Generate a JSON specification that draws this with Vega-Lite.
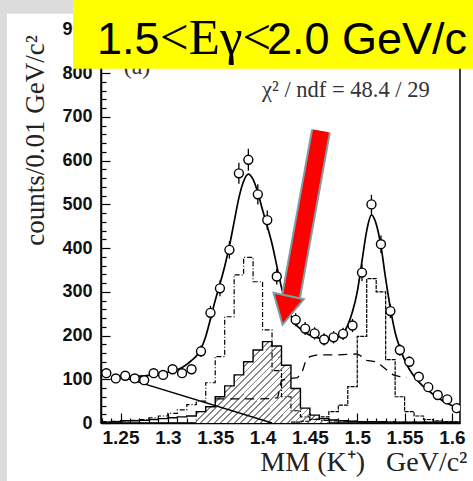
{
"$schema": "https://vega.github.io/schema/vega-lite/v6.json",
"width": 359, "height": 411,
"autosize": {"type": "none"},
"padding": {"left": 101, "top": 12, "right": 13, "bottom": 58},
"background": "white",
"config": {"view": {"stroke": "black", "strokeWidth": 1.5}},
"datasets": {
"pts": [
{"m":1.235,"n":114,"lo":103,"hi":125},{"m":1.245,"n":102,"lo":92,"hi":112},{"m":1.255,"n":108,"lo":98,"hi":118},{"m":1.265,"n":102,"lo":92,"hi":112},{"m":1.275,"n":98,"lo":88,"hi":108},{"m":1.285,"n":114,"lo":103,"hi":125},{"m":1.295,"n":110,"lo":100,"hi":120},{"m":1.305,"n":123,"lo":112,"hi":134},{"m":1.315,"n":114,"lo":103,"hi":125},{"m":1.325,"n":123,"lo":112,"hi":134},{"m":1.335,"n":164,"lo":151,"hi":177},{"m":1.345,"n":252,"lo":236,"hi":268},{"m":1.355,"n":308,"lo":290,"hi":326},{"m":1.365,"n":396,"lo":376,"hi":416},{"m":1.375,"n":571,"lo":547,"hi":595},{"m":1.385,"n":602,"lo":577,"hi":627},{"m":1.395,"n":523,"lo":500,"hi":546},{"m":1.405,"n":464,"lo":442,"hi":486},{"m":1.415,"n":335,"lo":317,"hi":353},{"m":1.425,"n":268,"lo":252,"hi":284},{"m":1.435,"n":236,"lo":221,"hi":251},{"m":1.445,"n":216,"lo":201,"hi":231},{"m":1.455,"n":205,"lo":191,"hi":219},{"m":1.465,"n":191,"lo":177,"hi":205},{"m":1.475,"n":196,"lo":182,"hi":210},{"m":1.485,"n":204,"lo":190,"hi":218},{"m":1.495,"n":223,"lo":208,"hi":238},{"m":1.505,"n":344,"lo":325,"hi":363},{"m":1.515,"n":500,"lo":478,"hi":522},{"m":1.525,"n":409,"lo":389,"hi":429},{"m":1.535,"n":256,"lo":240,"hi":272},{"m":1.545,"n":167,"lo":154,"hi":180},{"m":1.555,"n":140,"lo":128,"hi":152},{"m":1.565,"n":106,"lo":96,"hi":116},{"m":1.575,"n":82,"lo":73,"hi":91},{"m":1.585,"n":64,"lo":56,"hi":72},{"m":1.595,"n":54,"lo":47,"hi":61},{"m":1.605,"n":34,"lo":28,"hi":40}
],
"fit": [
{"m":1.25,"n":106},{"m":1.26,"n":106},{"m":1.27,"n":107},{"m":1.28,"n":109},{"m":1.29,"n":112},{"m":1.30,"n":116},{"m":1.31,"n":122},{"m":1.315,"n":127},{"m":1.32,"n":134},{"m":1.325,"n":143},{"m":1.33,"n":153},{"m":1.335,"n":170},{"m":1.34,"n":198},{"m":1.345,"n":238},{"m":1.35,"n":280},{"m":1.355,"n":318},{"m":1.36,"n":358},{"m":1.365,"n":405},{"m":1.37,"n":460},{"m":1.375,"n":515},{"m":1.38,"n":553},{"m":1.385,"n":569},{"m":1.39,"n":557},{"m":1.395,"n":527},{"m":1.40,"n":487},{"m":1.405,"n":450},{"m":1.41,"n":410},{"m":1.415,"n":360},{"m":1.42,"n":310},{"m":1.425,"n":272},{"m":1.43,"n":245},{"m":1.435,"n":226},{"m":1.44,"n":215},{"m":1.445,"n":207},{"m":1.45,"n":201},{"m":1.455,"n":197},{"m":1.46,"n":194},{"m":1.465,"n":192},{"m":1.47,"n":191},{"m":1.475,"n":192},{"m":1.48,"n":196},{"m":1.485,"n":205},{"m":1.49,"n":224},{"m":1.495,"n":255},{"m":1.50,"n":300},{"m":1.505,"n":370},{"m":1.51,"n":440},{"m":1.515,"n":476},{"m":1.52,"n":455},{"m":1.525,"n":405},{"m":1.53,"n":330},{"m":1.535,"n":262},{"m":1.54,"n":207},{"m":1.545,"n":172},{"m":1.55,"n":144},{"m":1.555,"n":123},{"m":1.56,"n":107},{"m":1.565,"n":94},{"m":1.57,"n":83},{"m":1.575,"n":74},{"m":1.58,"n":66},{"m":1.585,"n":58},{"m":1.59,"n":51},{"m":1.595,"n":45},{"m":1.60,"n":40},{"m":1.605,"n":36}
],
"hist": [
{"c":"dd","m":1.23,"n":3},{"c":"dd","m":1.24,"n":4},{"c":"dd","m":1.25,"n":5},{"c":"dd","m":1.26,"n":6},{"c":"dd","m":1.27,"n":8},{"c":"dd","m":1.28,"n":12},{"c":"dd","m":1.29,"n":16},{"c":"dd","m":1.30,"n":22},{"c":"dd","m":1.31,"n":30},{"c":"dd","m":1.32,"n":42},{"c":"dd","m":1.33,"n":50},{"c":"dd","m":1.34,"n":92},{"c":"dd","m":1.35,"n":152},{"c":"dd","m":1.36,"n":243},{"c":"dd","m":1.37,"n":339},{"c":"dd","m":1.38,"n":379},{"c":"dd","m":1.39,"n":323},{"c":"dd","m":1.40,"n":213},{"c":"dd","m":1.41,"n":120},{"c":"dd","m":1.42,"n":60},{"c":"dd","m":1.43,"n":28},{"c":"dd","m":1.44,"n":14},{"c":"dd","m":1.45,"n":9},{"c":"dd","m":1.46,"n":6},{"c":"dd","m":1.47,"n":5},{"c":"dd","m":1.48,"n":4},{"c":"dd","m":1.49,"n":4},{"c":"dd","m":1.50,"n":3},{"c":"dd","m":1.51,"n":3},{"c":"dd","m":1.52,"n":3},{"c":"dd","m":1.53,"n":3},{"c":"dd","m":1.54,"n":2},{"c":"dd","m":1.55,"n":2},{"c":"dd","m":1.56,"n":2},{"c":"dd","m":1.57,"n":2},{"c":"dd","m":1.58,"n":2},{"c":"dd","m":1.59,"n":2},{"c":"dd","m":1.60,"n":2},{"c":"dd","m":1.61,"n":2},
{"c":"solid","m":1.23,"n":2},{"c":"solid","m":1.24,"n":3},{"c":"solid","m":1.25,"n":5},{"c":"solid","m":1.26,"n":5},{"c":"solid","m":1.27,"n":6},{"c":"solid","m":1.28,"n":8},{"c":"solid","m":1.29,"n":10},{"c":"solid","m":1.30,"n":12},{"c":"solid","m":1.31,"n":14},{"c":"solid","m":1.32,"n":16},{"c":"solid","m":1.33,"n":26},{"c":"solid","m":1.34,"n":37},{"c":"solid","m":1.35,"n":60},{"c":"solid","m":1.36,"n":85},{"c":"solid","m":1.37,"n":110},{"c":"solid","m":1.38,"n":140},{"c":"solid","m":1.39,"n":167},{"c":"solid","m":1.40,"n":186},{"c":"solid","m":1.41,"n":176},{"c":"solid","m":1.42,"n":132},{"c":"solid","m":1.43,"n":79},{"c":"solid","m":1.44,"n":34},{"c":"solid","m":1.45,"n":18},{"c":"solid","m":1.46,"n":10},{"c":"solid","m":1.47,"n":7},{"c":"solid","m":1.48,"n":5},{"c":"solid","m":1.49,"n":4},{"c":"solid","m":1.50,"n":3},{"c":"solid","m":1.51,"n":3},{"c":"solid","m":1.52,"n":3},{"c":"solid","m":1.53,"n":2},{"c":"solid","m":1.54,"n":2},{"c":"solid","m":1.55,"n":2},{"c":"solid","m":1.56,"n":2},{"c":"solid","m":1.57,"n":2},{"c":"solid","m":1.58,"n":2},{"c":"solid","m":1.59,"n":2},{"c":"solid","m":1.60,"n":2},{"c":"solid","m":1.61,"n":2},
{"c":"peak","m":1.43,"n":2},{"c":"peak","m":1.44,"n":4},{"c":"peak","m":1.45,"n":8},{"c":"peak","m":1.46,"n":14},{"c":"peak","m":1.47,"n":26},{"c":"peak","m":1.48,"n":41},{"c":"peak","m":1.49,"n":83},{"c":"peak","m":1.50,"n":198},{"c":"peak","m":1.51,"n":330},{"c":"peak","m":1.52,"n":300},{"c":"peak","m":1.53,"n":145},{"c":"peak","m":1.54,"n":60},{"c":"peak","m":1.55,"n":26},{"c":"peak","m":1.56,"n":16},{"c":"peak","m":1.57,"n":8},{"c":"peak","m":1.58,"n":5},{"c":"peak","m":1.59,"n":3},{"c":"peak","m":1.60,"n":2},{"c":"peak","m":1.61,"n":2}
],
"dashed": [
{"m":1.35,"n":55},{"m":1.37,"n":55},{"m":1.39,"n":55},{"m":1.41,"n":56},{"m":1.416,"n":58},{"m":1.42,"n":98},{"m":1.43,"n":102},{"m":1.437,"n":104},{"m":1.442,"n":118},{"m":1.445,"n":138},{"m":1.45,"n":152},{"m":1.458,"n":156},{"m":1.48,"n":156},{"m":1.50,"n":158},{"m":1.505,"n":152},{"m":1.51,"n":143},{"m":1.52,"n":140},{"m":1.525,"n":132},{"m":1.532,"n":120},{"m":1.538,"n":110},{"m":1.545,"n":106},{"m":1.552,"n":104}
],
"bg": [{"m":1.25,"n":106},{"m":1.41,"n":0}],
"frame": [{"m":1.1227,"m2":1.1301,"n":968,"n2":-133},{"m":1.1227,"m2":1.1998,"n":968,"n2":936}],
"chi": [{"m":1.488,"n":746,"t":"χ² / ndf = 48.4 / 29"}],
"lbl": [{"m":1.2674,"n":799,"t":"(a)"}],
"box": [{"m":1.1998,"m2":1.6222,"n":968,"n2":810}],
"bigsans": [{"m":1.2252,"n":844,"t":"1.5"},{"m":1.4047,"n":844,"t":"2.0 GeV/c"}],
"bigserif": [{"m":1.2917,"n":844,"t":"<Eγ<"}],
"arrow": [{"m":1.4617,"n":668},{"m":1.4285,"n":270}],
"head": [{"m":1.4254,"n":268.6}]
},
"encoding": {
"x": {"field": "m", "type": "quantitative", "title": "MM (K⁺)\u00a0\u00a0 GeV/c²",
 "scale": {"domain": [1.2294, 1.6085], "nice": false, "zero": false},
 "axis": {"values": [1.23,1.24,1.25,1.26,1.27,1.28,1.29,1.30,1.31,1.32,1.33,1.34,1.35,1.36,1.37,1.38,1.39,1.40,1.41,1.42,1.43,1.44,1.45,1.46,1.47,1.48,1.49,1.50,1.51,1.52,1.53,1.54,1.55,1.56,1.57,1.58,1.59,1.60],
  "labelExpr": "round(datum.value*100) % 5 === 0 ? format(datum.value, '.3~f') : ''",
  "tickSize": {"condition": {"test": "round(datum.value*100) % 5 === 0", "value": -10}, "value": -5},
  "labelPadding": 15, "labelFont": "Liberation Sans", "labelFontWeight": "bold", "labelFontSize": 19, "labelColor": "#111",
  "labelOverlap": false, "labelFlush": false, "grid": false,
  "domainColor": "black", "domainWidth": 1.5, "tickColor": "black", "tickWidth": 1.2,
  "titleFont": "Liberation Serif", "titleFontSize": 28, "titleFontWeight": "normal", "titleColor": "#222",
  "titleX": 366, "titleY": 47, "titleAlign": "right", "titleBaseline": "alphabetic"}},
"y": {"field": "n", "type": "quantitative", "title": "counts/0.01 GeV/c²",
 "scale": {"domain": [0, 940], "nice": false, "zero": true},
 "axis": {"values": [0,20,40,60,80,100,120,140,160,180,200,220,240,260,280,300,320,340,360,380,400,420,440,460,480,500,520,540,560,580,600,620,640,660,680,700,720,740,760,780,800,820,840,860,880,900,920],
  "labelExpr": "datum.value % 100 === 0 ? datum.label : ''",
  "tickSize": {"condition": {"test": "datum.value % 100 === 0", "value": -9}, "value": -5},
  "labelPadding": 18, "labelFont": "Liberation Sans", "labelFontWeight": "bold", "labelFontSize": 18, "labelColor": "#111",
  "labelOverlap": false, "labelFlush": false, "grid": false,
  "domainColor": "black", "domainWidth": 1.5, "tickColor": "black", "tickWidth": 1.2,
  "titleFont": "Liberation Serif", "titleFontSize": 27, "titleFontWeight": "normal", "titleColor": "#222",
  "titleX": -58, "titleY": 128, "titleAngle": -90, "titleAlign": "center", "titleBaseline": "alphabetic"}}
},
"layer": [
{"data": {"name": "hist"}, "transform": [{"filter": "datum.c === 'solid' && datum.m > 1.325 && datum.m < 1.475"}],
 "mark": {"type": "area", "interpolate": "step-after", "clip": true,
  "fill": {"gradient": "linear", "x1": 0, "y1": 0, "x2": 1.17, "y2": 0.715, "stops": [
{"offset":0,"color":"#fff"},
{"offset":0.0225,"color":"#fff"},{"offset":0.0225,"color":"#888"},{"offset":0.03125,"color":"#888"},{"offset":0.03125,"color":"#fff"},
{"offset":0.05375,"color":"#fff"},{"offset":0.05375,"color":"#888"},{"offset":0.0625,"color":"#888"},{"offset":0.0625,"color":"#fff"},
{"offset":0.085,"color":"#fff"},{"offset":0.085,"color":"#888"},{"offset":0.09375,"color":"#888"},{"offset":0.09375,"color":"#fff"},
{"offset":0.11625,"color":"#fff"},{"offset":0.11625,"color":"#888"},{"offset":0.125,"color":"#888"},{"offset":0.125,"color":"#fff"},
{"offset":0.1475,"color":"#fff"},{"offset":0.1475,"color":"#888"},{"offset":0.15625,"color":"#888"},{"offset":0.15625,"color":"#fff"},
{"offset":0.17875,"color":"#fff"},{"offset":0.17875,"color":"#888"},{"offset":0.1875,"color":"#888"},{"offset":0.1875,"color":"#fff"},
{"offset":0.21,"color":"#fff"},{"offset":0.21,"color":"#888"},{"offset":0.21875,"color":"#888"},{"offset":0.21875,"color":"#fff"},
{"offset":0.24125,"color":"#fff"},{"offset":0.24125,"color":"#888"},{"offset":0.25,"color":"#888"},{"offset":0.25,"color":"#fff"},
{"offset":0.2725,"color":"#fff"},{"offset":0.2725,"color":"#888"},{"offset":0.28125,"color":"#888"},{"offset":0.28125,"color":"#fff"},
{"offset":0.30375,"color":"#fff"},{"offset":0.30375,"color":"#888"},{"offset":0.3125,"color":"#888"},{"offset":0.3125,"color":"#fff"},
{"offset":0.335,"color":"#fff"},{"offset":0.335,"color":"#888"},{"offset":0.34375,"color":"#888"},{"offset":0.34375,"color":"#fff"},
{"offset":0.36625,"color":"#fff"},{"offset":0.36625,"color":"#888"},{"offset":0.375,"color":"#888"},{"offset":0.375,"color":"#fff"},
{"offset":0.3975,"color":"#fff"},{"offset":0.3975,"color":"#888"},{"offset":0.40625,"color":"#888"},{"offset":0.40625,"color":"#fff"},
{"offset":0.42875,"color":"#fff"},{"offset":0.42875,"color":"#888"},{"offset":0.4375,"color":"#888"},{"offset":0.4375,"color":"#fff"},
{"offset":0.46,"color":"#fff"},{"offset":0.46,"color":"#888"},{"offset":0.46875,"color":"#888"},{"offset":0.46875,"color":"#fff"},
{"offset":0.49125,"color":"#fff"},{"offset":0.49125,"color":"#888"},{"offset":0.5,"color":"#888"},{"offset":0.5,"color":"#fff"},
{"offset":0.5225,"color":"#fff"},{"offset":0.5225,"color":"#888"},{"offset":0.53125,"color":"#888"},{"offset":0.53125,"color":"#fff"},
{"offset":0.55375,"color":"#fff"},{"offset":0.55375,"color":"#888"},{"offset":0.5625,"color":"#888"},{"offset":0.5625,"color":"#fff"},
{"offset":0.585,"color":"#fff"},{"offset":0.585,"color":"#888"},{"offset":0.59375,"color":"#888"},{"offset":0.59375,"color":"#fff"},
{"offset":0.61625,"color":"#fff"},{"offset":0.61625,"color":"#888"},{"offset":0.625,"color":"#888"},{"offset":0.625,"color":"#fff"},
{"offset":0.6475,"color":"#fff"},{"offset":0.6475,"color":"#888"},{"offset":0.65625,"color":"#888"},{"offset":0.65625,"color":"#fff"},
{"offset":0.67875,"color":"#fff"},{"offset":0.67875,"color":"#888"},{"offset":0.6875,"color":"#888"},{"offset":0.6875,"color":"#fff"},
{"offset":0.71,"color":"#fff"},{"offset":0.71,"color":"#888"},{"offset":0.71875,"color":"#888"},{"offset":0.71875,"color":"#fff"},
{"offset":0.74125,"color":"#fff"},{"offset":0.74125,"color":"#888"},{"offset":0.75,"color":"#888"},{"offset":0.75,"color":"#fff"},
{"offset":0.7725,"color":"#fff"},{"offset":0.7725,"color":"#888"},{"offset":0.78125,"color":"#888"},{"offset":0.78125,"color":"#fff"},
{"offset":0.80375,"color":"#fff"},{"offset":0.80375,"color":"#888"},{"offset":0.8125,"color":"#888"},{"offset":0.8125,"color":"#fff"},
{"offset":0.835,"color":"#fff"},{"offset":0.835,"color":"#888"},{"offset":0.84375,"color":"#888"},{"offset":0.84375,"color":"#fff"},
{"offset":0.86625,"color":"#fff"},{"offset":0.86625,"color":"#888"},{"offset":0.875,"color":"#888"},{"offset":0.875,"color":"#fff"},
{"offset":0.8975,"color":"#fff"},{"offset":0.8975,"color":"#888"},{"offset":0.90625,"color":"#888"},{"offset":0.90625,"color":"#fff"},
{"offset":0.92875,"color":"#fff"},{"offset":0.92875,"color":"#888"},{"offset":0.9375,"color":"#888"},{"offset":0.9375,"color":"#fff"},
{"offset":0.96,"color":"#fff"},{"offset":0.96,"color":"#888"},{"offset":0.96875,"color":"#888"},{"offset":0.96875,"color":"#fff"},
{"offset":0.99125,"color":"#fff"},{"offset":0.99125,"color":"#888"},{"offset":1,"color":"#888"}
 ]}}},
{"data": {"name": "hist"}, "transform": [{"filter": "datum.c === 'dd'"}],
 "mark": {"type": "line", "interpolate": "step-after", "clip": true, "color": "black", "strokeWidth": 1.2, "strokeDash": [5, 2, 1, 2]}},
{"data": {"name": "hist"}, "transform": [{"filter": "datum.c === 'solid'"}],
 "mark": {"type": "line", "interpolate": "step-after", "clip": true, "color": "black", "strokeWidth": 1.4}},
{"data": {"name": "hist"}, "transform": [{"filter": "datum.c === 'peak'"}],
 "mark": {"type": "line", "interpolate": "step-after", "clip": true, "color": "black", "strokeWidth": 1.2, "strokeDash": [4, 1]}},
{"data": {"name": "dashed"},
 "mark": {"type": "line", "interpolate": "linear", "clip": true, "color": "black", "strokeWidth": 1.3, "strokeDash": [9, 6]}},
{"data": {"name": "bg"},
 "mark": {"type": "line", "clip": true, "color": "black", "strokeWidth": 1.5}},
{"data": {"name": "fit"},
 "mark": {"type": "line", "interpolate": "monotone", "clip": true, "color": "black", "strokeWidth": 1.7}},
{"data": {"name": "pts"},
 "mark": {"type": "rule", "color": "black", "strokeWidth": 1.3, "clip": true},
 "encoding": {"y": {"field": "lo", "type": "quantitative", "title": "counts/0.01 GeV/c²"}, "y2": {"field": "hi"}}},
{"data": {"name": "pts"},
 "mark": {"type": "point", "shape": "circle", "filled": true, "fill": "white", "stroke": "black", "strokeWidth": 1.4, "size": 80, "opacity": 1, "clip": true}},
{"data": {"name": "chi"},
 "mark": {"type": "text", "font": "Liberation Serif", "fontSize": 22.5, "color": "#333", "align": "center", "baseline": "alphabetic", "clip": false},
 "encoding": {"text": {"field": "t"}}},
{"data": {"name": "lbl"},
 "mark": {"type": "text", "font": "Liberation Serif", "fontSize": 24, "color": "#333", "align": "center", "baseline": "alphabetic", "clip": false},
 "encoding": {"text": {"field": "t"}}},
{"data": {"name": "frame"},
 "mark": {"type": "rect", "fill": "#dcdcdc", "clip": false},
 "encoding": {"x2": {"field": "m2"}, "y2": {"field": "n2"}}},
{"data": {"name": "box"},
 "mark": {"type": "rect", "fill": "#ffff00", "clip": false},
 "encoding": {"x2": {"field": "m2"}, "y2": {"field": "n2"}}},
{"data": {"name": "bigsans"},
 "mark": {"type": "text", "font": "Liberation Sans", "fontSize": 45, "color": "black", "align": "left", "baseline": "alphabetic", "clip": false},
 "encoding": {"text": {"field": "t"}}},
{"data": {"name": "bigserif"},
 "mark": {"type": "text", "font": "Liberation Serif", "fontSize": 51, "color": "black", "align": "left", "baseline": "alphabetic", "clip": false},
 "encoding": {"text": {"field": "t"}}},
{"data": {"name": "arrow"},
 "mark": {"type": "line", "color": "#7b9ea8", "strokeWidth": 20, "strokeCap": "butt", "clip": false}},
{"data": {"name": "arrow"},
 "mark": {"type": "line", "color": "#ff0000", "strokeWidth": 16, "strokeCap": "butt", "clip": false}},
{"data": {"name": "head"},
 "mark": {"type": "point", "shape": "M-1,-0.633L1,-0.633L0,1.267Z", "size": 961, "angle": 12, "filled": true, "fill": "#ff0000", "stroke": "#7b9ea8", "strokeWidth": 2, "opacity": 1, "clip": false}}
]
}
